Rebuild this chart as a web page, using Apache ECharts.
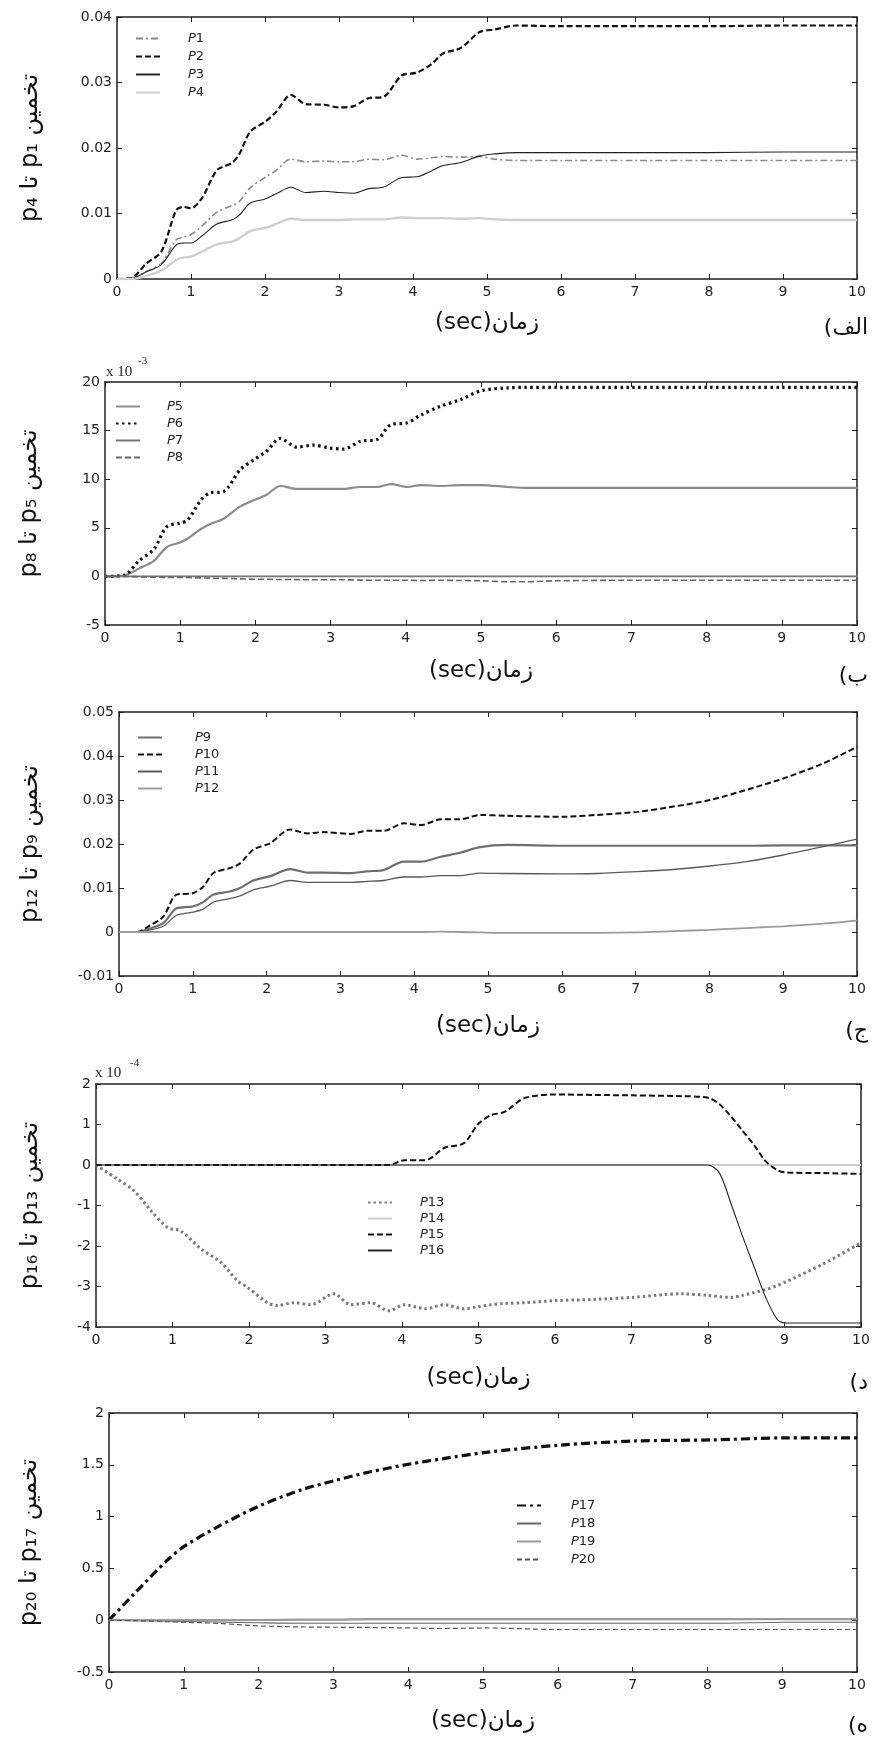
<!DOCTYPE html>
<html><head><meta charset="utf-8">
<script src="https://cdn.jsdelivr.net/npm/echarts@6/dist/echarts.min.js"></script>
<style>html,body{margin:0;padding:0;background:#fff}#c{width:881px;height:1741px}</style>
</head><body><div id="c"></div><script>
// ---- Panel (الف) ----
const t1 = [0,0.2,0.4,0.6,0.8,0.9,1.0,1.15,1.35,1.55,1.65,1.8,2.0,2.15,2.35,2.55,2.8,3.0,3.2,3.4,3.6,3.85,4.05,4.25,4.4,4.65,4.9,5.1,5.4,6,7,8,9,10];
const p1 = [0,0.0001,0.0012,0.0024,0.006,0.0064,0.0068,0.0081,0.0102,0.0112,0.0118,0.0139,0.0155,0.0166,0.0183,0.0179,0.018,0.0179,0.0179,0.0183,0.0182,0.0189,0.0183,0.0185,0.0187,0.0186,0.0187,0.0183,0.0181,0.0181,0.0181,0.0181,0.0181,0.0181];
const p2 = [0,0.0002,0.0024,0.0042,0.0105,0.011,0.0108,0.0124,0.0166,0.0177,0.019,0.0225,0.024,0.0255,0.0281,0.0267,0.0266,0.0262,0.0264,0.0276,0.0278,0.0311,0.0315,0.0328,0.0344,0.0353,0.0377,0.0381,0.0387,0.0386,0.0386,0.0386,0.0387,0.0387];
const p3 = [0,0.0001,0.0011,0.0022,0.0052,0.0055,0.0055,0.0066,0.0084,0.009,0.0097,0.0116,0.0122,0.013,0.014,0.0132,0.0134,0.0132,0.0131,0.0138,0.014,0.0155,0.0156,0.0165,0.0173,0.0178,0.0188,0.0191,0.0193,0.0193,0.0193,0.0193,0.0194,0.0194];
const p4 = [0,0,0.0005,0.0013,0.0029,0.0033,0.0034,0.0042,0.0053,0.0057,0.0062,0.0073,0.0078,0.0084,0.0092,0.009,0.009,0.009,0.0091,0.0091,0.0091,0.0094,0.0093,0.0093,0.0093,0.0092,0.0093,0.0091,0.009,0.009,0.009,0.009,0.009,0.009];
// ---- Panel (ب) (x 10^-3) ----
const t2 = [0,0.25,0.45,0.65,0.82,1.0,1.1,1.28,1.4,1.57,1.8,2.0,2.15,2.33,2.55,2.77,3.0,3.17,3.4,3.62,3.8,4.02,4.2,4.46,4.73,5.0,5.36,5.6,6,7,8,9,10];
const p5 = [0,0.1,0.8,1.6,3.0,3.5,3.9,4.9,5.4,5.9,7.2,7.9,8.4,9.3,9.0,9.0,9.0,9.0,9.2,9.2,9.5,9.2,9.4,9.3,9.4,9.4,9.2,9.1,9.1,9.1,9.1,9.1,9.1];
const p6 = [0,0.1,1.6,2.8,5.1,5.5,5.8,7.9,8.6,8.7,11.0,12.1,12.9,14.2,13.3,13.5,13.2,13.1,13.9,14.1,15.6,15.8,16.6,17.5,18.2,19.1,19.4,19.45,19.45,19.45,19.45,19.45,19.45];
const p7 = [0,0,0,0,0,0,0,0,0,0,0,0,0,0,0,0,0,0,0,0,0,0,0,0,0,0,0,0,0,0,0,0,0];
const p8 = [0,0,-0.05,-0.08,-0.1,-0.1,-0.12,-0.15,-0.18,-0.2,-0.25,-0.3,-0.3,-0.32,-0.33,-0.35,-0.35,-0.35,-0.38,-0.4,-0.4,-0.4,-0.42,-0.4,-0.42,-0.45,-0.55,-0.55,-0.45,-0.4,-0.4,-0.4,-0.4];
// ---- Panel (ج) ----
const t3 = [0,0.25,0.4,0.6,0.78,1.0,1.14,1.28,1.5,1.64,1.82,2.05,2.32,2.55,2.77,3.14,3.36,3.59,3.86,4.09,4.36,4.62,4.89,5.26,6.02,6.47,7.02,7.51,8.01,8.5,9.0,9.54,10];
const p9 = [0,0,0.0007,0.002,0.0054,0.0058,0.0068,0.0085,0.0092,0.01,0.0117,0.0127,0.0143,0.0135,0.0135,0.0134,0.0138,0.0141,0.016,0.016,0.0171,0.018,0.0193,0.0198,0.0196,0.0196,0.0196,0.0196,0.0196,0.0196,0.0197,0.0197,0.0197];
const p10 = [0,0,0.0013,0.0035,0.0085,0.0088,0.0103,0.0134,0.0145,0.0156,0.0187,0.0202,0.0233,0.0224,0.0227,0.0223,0.023,0.023,0.0247,0.0243,0.0256,0.0256,0.0266,0.0264,0.0262,0.0266,0.0273,0.0285,0.030,0.0323,0.0349,0.0383,0.0421];
const p11 = [0,0,0.0004,0.0013,0.0038,0.0045,0.0052,0.0068,0.0076,0.0082,0.0096,0.0104,0.0117,0.0113,0.0113,0.0113,0.0115,0.0117,0.0125,0.0125,0.0128,0.0128,0.0134,0.0133,0.0132,0.0133,0.0137,0.0142,0.015,0.016,0.0175,0.0194,0.0211];
const p12 = [0,0,0,0,0,0,0,0,0,0,0,0,0,0,0,0,0,0,0,0,0.0001,0,-0.0001,-0.0002,-0.0002,-0.0002,-0.0001,0.0002,0.0005,0.0009,0.0013,0.0019,0.0026];
// ---- Panel (د) (x 10^-4) ----
const t4 = [0,0.28,0.5,0.72,0.94,1.11,1.37,1.63,1.85,1.98,2.24,2.37,2.59,2.81,3.11,3.33,3.59,3.83,4.03,4.31,4.55,4.81,4.99,5.16,5.34,5.6,6.0,6.5,7.0,7.65,8.0,8.15,8.3,8.45,8.6,8.75,8.9,9.0,9.5,10];
const p13 = [0,-0.35,-0.64,-1.13,-1.55,-1.63,-2.07,-2.4,-2.86,-3.02,-3.4,-3.47,-3.4,-3.45,-3.18,-3.45,-3.4,-3.6,-3.45,-3.55,-3.45,-3.55,-3.5,-3.45,-3.42,-3.4,-3.35,-3.32,-3.27,-3.18,-3.22,-3.25,-3.27,-3.22,-3.15,-3.08,-2.98,-2.9,-2.45,-1.92];
const p14 = [0,0,0,0,0,0,0,0,0,0,0,0,0,0,0,0,0,0,0,0,0,0,0,0,0,0,0,0,0,0,0,0,0,0,0,0,0,0,0,0];
const p15 = [0,0,0,0,0,0,0,0,0,0,0,0,0,0,0,0,0,0,0.12,0.12,0.42,0.54,1.0,1.23,1.31,1.65,1.74,1.73,1.72,1.7,1.66,1.5,1.2,0.85,0.5,0.1,-0.12,-0.18,-0.2,-0.22];
const p16 = [0,0,0,0,0,0,0,0,0,0,0,0,0,0,0,0,0,0,0,0,0,0,0,0,0,0,0,0,0,0,0,-0.2,-0.95,-1.75,-2.5,-3.25,-3.8,-3.9,-3.9,-3.9];
// ---- Panel (ه) ----
const t5 = [0,0.33,0.78,1.0,1.45,2.0,2.58,3.03,3.48,4.04,4.47,5.04,6.03,7.04,8.05,9.07,10];
const p17 = [0,0.25,0.58,0.71,0.9,1.1,1.26,1.35,1.43,1.51,1.56,1.62,1.69,1.73,1.74,1.76,1.76];
const p18 = [0,-0.005,-0.01,-0.012,-0.018,-0.025,-0.03,-0.03,-0.03,-0.03,-0.03,-0.03,-0.03,-0.03,-0.03,-0.02,-0.02];
const p19 = [0,0,0,0,0,0.002,0.005,0.005,0.01,0.01,0.01,0.01,0.01,0.01,0.01,0.01,0.01];
const p20 = [0,-0.005,-0.015,-0.02,-0.03,-0.055,-0.065,-0.068,-0.07,-0.075,-0.08,-0.075,-0.09,-0.09,-0.09,-0.09,-0.09];

const xTicks = {min:0, max:10, interval:1};
const xName = '(sec)زمان';

const panels = [
  {grid:{left:117, top:17, right:24, height:262}, y:{min:0, max:0.04, interval:0.01}, yName:'p₄ تا p₁ تخمین', yGap:74, xGap:33, tag:'(الف', tagTop:312,
   legend:{left:135, top:32, pad:23, gap:5},
   series:[
     {name:'P1', t:t1, v:p1, color:'#8a8a8a', width:1.6, type:[7,3,2,3]},
     {name:'P2', t:t1, v:p2, color:'#111', width:2.2, type:[6,3]},
     {name:'P3', t:t1, v:p3, color:'#222', width:1.1, type:'solid'},
     {name:'P4', t:t1, v:p4, color:'#cfcfcf', width:2.4, type:'solid'}]},
  {grid:{left:105, top:382, right:24, height:243}, y:{min:-5, max:20, interval:5}, yName:'p₈ تا p₅ تخمین', yGap:63, xGap:35, tag:'(ب', tagTop:660,
   legend:{left:115, top:400, pad:22, gap:4},
   series:[
     {name:'P5', t:t2, v:p5, color:'#8c8c8c', width:2.2, type:'solid'},
     {name:'P6', t:t2, v:p6, color:'#111', width:3.2, type:[2.5,3.5]},
     {name:'P7', t:t2, v:p7, color:'#777', width:1.6, type:'solid'},
     {name:'P8', t:t2, v:p8, color:'#666', width:1.6, type:[6,3]}]},
  {grid:{left:119, top:712, right:24, height:264}, y:{min:-0.01, max:0.05, interval:0.01}, yName:'p₁₂ تا p₉ تخمین', yGap:76, xGap:39, tag:'(ج', tagTop:1015,
   legend:{left:137, top:731, pad:28, gap:4},
   series:[
     {name:'P9', t:t3, v:p9, color:'#6e6e6e', width:2.2, type:'solid'},
     {name:'P10', t:t3, v:p10, color:'#111', width:2, type:[6,3]},
     {name:'P11', t:t3, v:p11, color:'#5a5a5a', width:1.3, type:'solid'},
     {name:'P12', t:t3, v:p12, color:'#9a9a9a', width:1.8, type:'solid'}]},
  {grid:{left:96, top:1084, right:20, height:243}, y:{min:-4, max:2, interval:1}, yName:'p₁₆ تا p₁₃ تخمین', yGap:53, xGap:40, tag:'(د', tagTop:1367,
   legend:{left:367, top:1196, pad:23, gap:3},
   series:[
     {name:'P13', t:t4, v:p13, color:'#7a7a7a', width:3, type:[2.5,3]},
     {name:'P14', t:t4, v:p14, color:'#cccccc', width:2.2, type:'solid'},
     {name:'P15', t:t4, v:p15, color:'#111', width:2, type:[6,3]},
     {name:'P16', t:t4, v:p16, color:'#222', width:1.1, type:'solid'}]},
  {grid:{left:109, top:1413, right:24, height:259}, y:{min:-0.5, max:2, interval:0.5}, yName:'p₂₀ تا p₁₇ تخمین', yGap:67, xGap:38, tag:'(ه', tagTop:1710,
   legend:{left:516, top:1499, pad:25, gap:5},
   series:[
     {name:'P17', t:t5, v:p17, color:'#111', width:3.2, type:[9,4,3,4]},
     {name:'P18', t:t5, v:p18, color:'#666', width:1.1, type:'solid'},
     {name:'P19', t:t5, v:p19, color:'#9a9a9a', width:2.2, type:'solid'},
     {name:'P20', t:t5, v:p20, color:'#555', width:1.2, type:[5,3]}]}
];

const axisColor = '#222';
const labelFont = 'DejaVu Sans';
const option = {animation:false, backgroundColor:'#fff', grid:[], xAxis:[], yAxis:[], series:[], legend:[], title:[], graphic:[]};

panels.forEach((p, i) => {
  option.grid.push(Object.assign({containLabel:false}, p.grid));
  const line = {show:true, onZero:false, lineStyle:{color:axisColor, width:1.5}};
  const tick = {show:true, inside:true, length:5, lineStyle:{color:axisColor, width:1}};
  option.xAxis.push({gridIndex:i, type:'value', ...xTicks, position:'bottom', axisLine:line, axisTick:tick,
    axisLabel:{color:'#222', fontSize:14, margin:6, fontFamily:labelFont}, splitLine:{show:false},
    name:xName, nameLocation:'middle', nameGap:p.xGap, nameTextStyle:{fontSize:23, color:'#111', fontFamily:labelFont}});
  option.xAxis.push({gridIndex:i, type:'value', ...xTicks, position:'top', axisLine:line, axisTick:tick,
    axisLabel:{show:false}, splitLine:{show:false}});
  option.yAxis.push({gridIndex:i, type:'value', ...p.y, position:'left', axisLine:line, axisTick:tick,
    axisLabel:{color:'#222', fontSize:14, margin:5, fontFamily:labelFont}, splitLine:{show:false},
    name:p.yName, nameLocation:'middle', nameRotate:90, nameGap:p.yGap, nameTextStyle:{fontSize:24, color:'#111', fontFamily:labelFont}});
  option.yAxis.push({gridIndex:i, type:'value', ...p.y, position:'right', axisLine:line, axisTick:tick,
    axisLabel:{show:false}, splitLine:{show:false}});
  p.series.forEach(s => {
    option.series.push({name:s.name, type:'line', xAxisIndex:2*i, yAxisIndex:2*i, symbol:'none', smooth:0.3,
      data:s.t.map((x,k)=>[x, s.v[k]]), lineStyle:{color:s.color, width:s.width, type:s.type},
      itemStyle:{color:s.color, opacity:0}});
  });
  option.legend.push({data:p.series.map(s=>s.name), orient:'vertical', left:p.legend.left, top:p.legend.top,
    itemWidth:24, itemHeight:13, itemGap:p.legend.gap, padding:0, selectedMode:false,
    itemStyle:{opacity:0, borderWidth:0},
    formatter: n => '{i|P}' + n.slice(1),
    textStyle:{fontSize:13, color:'#222', fontFamily:labelFont, padding:[0,0,0,p.legend.pad], rich:{i:{fontStyle:'italic', fontSize:13, color:'#222'}}}});
  option.title.push({text:p.tag, right:8, top:p.tagTop, textStyle:{fontSize:22, fontWeight:'normal', color:'#111', fontFamily:labelFont}});
});

// exponent labels
option.graphic.push(
  {type:'text', left:106, top:365, style:{text:'x 10', fontSize:15, fill:'#222', fontFamily:'Liberation Serif'}},
  {type:'text', left:138, top:356, style:{text:'-3', fontSize:11, fill:'#222', fontFamily:'Liberation Serif'}},
  {type:'text', left:95, top:1066, style:{text:'x 10', fontSize:15, fill:'#222', fontFamily:'Liberation Serif'}},
  {type:'text', left:130, top:1058, style:{text:'-4', fontSize:11, fill:'#222', fontFamily:'Liberation Serif'}}
);

const chart = echarts.init(document.getElementById('c'), null, {renderer:'canvas'});
chart.setOption(option);
</script></body></html>
